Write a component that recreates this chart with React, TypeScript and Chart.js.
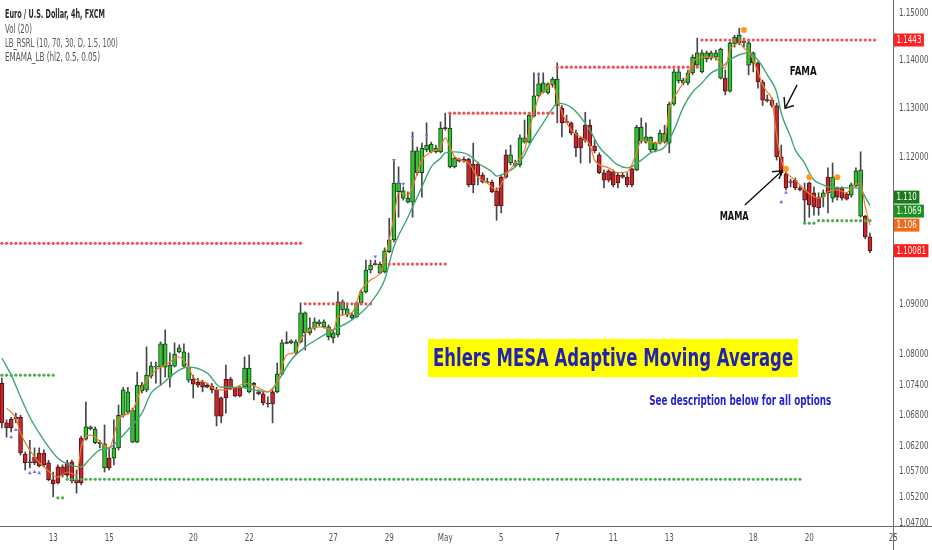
import { useEffect, useRef } from 'react';
import { Chart, registerables } from 'chart.js';

Chart.register(...registerables);

// EUR/USD 4h candles, index 0 = first bar at the left edge
const opens = [
    1.0743, 1.0665, 1.0672, 1.0676, 1.0676, 1.0604, 1.0589, 1.0598, 1.0606, 1.0606,
    1.0587, 1.0554, 1.0579, 1.0579, 1.0587, 1.0589, 1.0554, 1.0635, 1.0633, 1.0653,
    1.0626, 1.0624, 1.0577, 1.0596, 1.0596, 1.0616, 1.0680, 1.0686, 1.0627, 1.0627,
    1.0728, 1.0730, 1.0757, 1.0775, 1.0775, 1.0775, 1.0755, 1.0777, 1.0805, 1.0777,
    1.0749, 1.0751, 1.0745, 1.0745, 1.0739, 1.0737, 1.0730, 1.0714, 1.0751, 1.0751,
    1.0734, 1.0735, 1.0735, 1.0726, 1.0739, 1.0726, 1.0722, 1.0704, 1.0726, 1.0726,
    1.0761, 1.0823, 1.0823, 1.0803, 1.0825, 1.0843, 1.0843, 1.0853, 1.0861, 1.0855,
    1.0835, 1.0833, 1.0839, 1.0889, 1.0879, 1.0873, 1.0875, 1.0903, 1.0925, 1.0969,
    1.0981, 1.0963, 1.0965, 1.1006, 1.1030, 1.1128, 1.1115, 1.1107, 1.1107, 1.1167,
    1.1167, 1.1214, 1.1210, 1.1210, 1.1210, 1.1259, 1.1179, 1.1179, 1.1195, 1.1195,
    1.1195, 1.1185, 1.1185, 1.1162, 1.1148, 1.1148, 1.1130, 1.1158, 1.1204, 1.1187,
    1.1181, 1.1183, 1.1230, 1.1230, 1.1284, 1.1326, 1.1334, 1.1332, 1.1349, 1.1306,
    1.1300, 1.1272, 1.1270, 1.1249, 1.1239, 1.1265, 1.1265, 1.1222, 1.1204, 1.1167,
    1.1171, 1.1169, 1.1162, 1.1162, 1.1158, 1.1175, 1.1173, 1.1232, 1.1230, 1.1214,
    1.1214, 1.1228, 1.1230, 1.1228, 1.1309, 1.1357, 1.1353, 1.1353, 1.1374, 1.1390,
    1.1376, 1.1403, 1.1405, 1.1407, 1.1363, 1.1363, 1.1336, 1.1435, 1.1437, 1.1439,
    1.1390, 1.1395, 1.1395, 1.1355, 1.1317, 1.1317, 1.1306, 1.1200, 1.1165, 1.1148,
    1.1152, 1.1136, 1.1132, 1.1146, 1.1126, 1.1117, 1.1117, 1.1158, 1.1115, 1.1136,
    1.1136, 1.1124, 1.1121, 1.1140, 1.1078, 1.1078, 1.1036
];
const highs = [
    1.0753, 1.0671, 1.0676, 1.0684, 1.0680, 1.0608, 1.0631, 1.0616, 1.0616, 1.0612,
    1.0592, 1.0569, 1.0583, 1.0583, 1.0592, 1.0592, 1.0573, 1.0639, 1.0706, 1.0659,
    1.0657, 1.0631, 1.0661, 1.0616, 1.0671, 1.0700, 1.0735, 1.0735, 1.0694, 1.0765,
    1.0745, 1.0815, 1.0785, 1.0785, 1.0825, 1.0849, 1.0803, 1.0823, 1.0819, 1.0821,
    1.0803, 1.0759, 1.0753, 1.0749, 1.0743, 1.0743, 1.0735, 1.0716, 1.0779, 1.0755,
    1.0735, 1.0737, 1.0795, 1.0799, 1.0745, 1.0730, 1.0726, 1.0716, 1.0730, 1.0783,
    1.0829, 1.0845, 1.0829, 1.0829, 1.0903, 1.0885, 1.0873, 1.0873, 1.0869, 1.0869,
    1.0859, 1.0849, 1.0925, 1.0909, 1.0899, 1.0883, 1.0905, 1.0929, 1.0989, 1.0989,
    1.0989, 1.0985, 1.1014, 1.1074, 1.1193, 1.1179, 1.1138, 1.1128, 1.1251, 1.1220,
    1.1228, 1.1270, 1.1230, 1.1224, 1.1272, 1.1290, 1.1292, 1.1200, 1.1197, 1.1200,
    1.1197, 1.1228, 1.1189, 1.1167, 1.1156, 1.1152, 1.1136, 1.1162, 1.1214, 1.1224,
    1.1193, 1.1245, 1.1276, 1.1290, 1.1374, 1.1374, 1.1374, 1.1353, 1.1365, 1.1395,
    1.1306, 1.1286, 1.1272, 1.1255, 1.1241, 1.1292, 1.1276, 1.1234, 1.1208, 1.1173,
    1.1173, 1.1173, 1.1167, 1.1167, 1.1167, 1.1177, 1.1265, 1.1280, 1.1270, 1.1241,
    1.1230, 1.1255, 1.1265, 1.1313, 1.1382, 1.1384, 1.1363, 1.1380, 1.1412, 1.1447,
    1.1422, 1.1420, 1.1420, 1.1422, 1.1426, 1.1380, 1.1439, 1.1453, 1.1468, 1.1447,
    1.1443, 1.1418, 1.1397, 1.1359, 1.1328, 1.1322, 1.1311, 1.1224, 1.1177, 1.1154,
    1.1156, 1.1140, 1.1146, 1.1148, 1.1138, 1.1126, 1.1132, 1.1177, 1.1187, 1.1138,
    1.1138, 1.1126, 1.1146, 1.1177, 1.1210, 1.1080, 1.1044
];
const lows = [
    1.0655, 1.0637, 1.0647, 1.0665, 1.0602, 1.0573, 1.0577, 1.0583, 1.0579, 1.0579,
    1.0552, 1.0521, 1.0546, 1.0559, 1.0559, 1.0548, 1.0528, 1.0544, 1.0631, 1.0651,
    1.0624, 1.0616, 1.0569, 1.0573, 1.0583, 1.0612, 1.0676, 1.0682, 1.0626, 1.0626,
    1.0724, 1.0726, 1.0753, 1.0743, 1.0739, 1.0755, 1.0735, 1.0775, 1.0803, 1.0775,
    1.0745, 1.0714, 1.0735, 1.0726, 1.0734, 1.0724, 1.0659, 1.0665, 1.0684, 1.0730,
    1.0716, 1.0716, 1.0734, 1.0724, 1.0710, 1.0720, 1.0700, 1.0696, 1.0665, 1.0724,
    1.0759, 1.0821, 1.0821, 1.0799, 1.0823, 1.0809, 1.0839, 1.0849, 1.0857, 1.0853,
    1.0829, 1.0823, 1.0835, 1.0879, 1.0875, 1.0869, 1.0873, 1.0899, 1.0923, 1.0963,
    1.0979, 1.0961, 1.0963, 1.1004, 1.1026, 1.1076, 1.1111, 1.1105, 1.1076, 1.1162,
    1.1117, 1.1210, 1.1208, 1.1208, 1.1208, 1.1255, 1.1177, 1.1177, 1.1189, 1.1189,
    1.1138, 1.1126, 1.1142, 1.1146, 1.1146, 1.1126, 1.1070, 1.1085, 1.1156, 1.1183,
    1.1179, 1.1179, 1.1228, 1.1228, 1.1282, 1.1324, 1.1332, 1.1330, 1.1344, 1.1270,
    1.1241, 1.1270, 1.1245, 1.1200, 1.1187, 1.1230, 1.1187, 1.1208, 1.1165, 1.1136,
    1.1148, 1.1138, 1.1136, 1.1156, 1.1138, 1.1138, 1.1171, 1.1228, 1.1228, 1.1210,
    1.1210, 1.1226, 1.1228, 1.1208, 1.1306, 1.1353, 1.1349, 1.1349, 1.1370, 1.1386,
    1.1374, 1.1397, 1.1401, 1.1401, 1.1361, 1.1328, 1.1334, 1.1428, 1.1433, 1.1428,
    1.1370, 1.1376, 1.1342, 1.1306, 1.1313, 1.1302, 1.1193, 1.1162, 1.1132, 1.1138,
    1.1132, 1.1130, 1.1066, 1.1076, 1.1080, 1.1080, 1.1097, 1.1085, 1.1107, 1.1111,
    1.1111, 1.1111, 1.1117, 1.1138, 1.1076, 1.1032, 1.1004
];
const closes = [
    1.0665, 1.0655, 1.0655, 1.0672, 1.0606, 1.0587, 1.0587, 1.0587, 1.0581, 1.0583,
    1.0554, 1.0546, 1.0548, 1.0563, 1.0563, 1.0552, 1.0548, 1.0548, 1.0657, 1.0657,
    1.0653, 1.0627, 1.0624, 1.0577, 1.0616, 1.0680, 1.0730, 1.0726, 1.0690, 1.0739,
    1.0739, 1.0759, 1.0777, 1.0777, 1.0821, 1.0821, 1.0779, 1.0801, 1.0813, 1.0805,
    1.0775, 1.0741, 1.0739, 1.0735, 1.0735, 1.0730, 1.0678, 1.0678, 1.0714, 1.0732,
    1.0718, 1.0718, 1.0773, 1.0773, 1.0743, 1.0722, 1.0704, 1.0702, 1.0702, 1.0761,
    1.0823, 1.0822, 1.0827, 1.0825, 1.0883, 1.0883, 1.0853, 1.0865, 1.0865, 1.0865,
    1.0855, 1.0843, 1.0905, 1.0905, 1.0891, 1.0879, 1.0903, 1.0925, 1.0969, 1.0979,
    1.0980, 1.0981, 1.1008, 1.1030, 1.1146, 1.1146, 1.1130, 1.1115, 1.1212, 1.1212,
    1.1218, 1.1224, 1.1226, 1.1218, 1.1259, 1.1258, 1.1259, 1.1197, 1.1191, 1.1191,
    1.1142, 1.1142, 1.1160, 1.1148, 1.1147, 1.1128, 1.1099, 1.1099, 1.1158, 1.1204,
    1.1187, 1.1239, 1.1239, 1.1286, 1.1326, 1.1351, 1.1353, 1.1351, 1.1361, 1.1361,
    1.1270, 1.1271, 1.1249, 1.1218, 1.1218, 1.1234, 1.1222, 1.1212, 1.1167, 1.1152,
    1.1152, 1.1142, 1.1146, 1.1158, 1.1142, 1.1142, 1.1261, 1.1261, 1.1241, 1.1240,
    1.1228, 1.1249, 1.1249, 1.1309, 1.1376, 1.1376, 1.1359, 1.1374, 1.1407, 1.1416,
    1.1416, 1.1416, 1.1416, 1.1416, 1.1424, 1.1336, 1.1437, 1.1449, 1.1453, 1.1438,
    1.1437, 1.1416, 1.1355, 1.1317, 1.1316, 1.1306, 1.1200, 1.1167, 1.1136, 1.1147,
    1.1136, 1.1132, 1.1111, 1.1101, 1.1097, 1.1095, 1.1126, 1.1126, 1.1158, 1.1117,
    1.1115, 1.1113, 1.1142, 1.1171, 1.1173, 1.1036, 1.10081
];

// time axis: bar index where each labelled day starts
const dayIdx = [11, 23, 41, 53, 71, 83, 95, 107, 119, 131, 143, 161, 173, 191];
const dayText = ['13', '15', '20', '22', '27', '29', 'May', '5', '7', '11', '13', '18', '20', '25'];

const priceTicks = [1.047, 1.052, 1.057, 1.062, 1.068, 1.074, 1.08, 1.09, 1.12, 1.13, 1.14, 1.15];

// MAMA (orange) and FAMA (green), read at these bars
const mamaIdx = [
    1, 3, 4, 7, 9, 12, 14, 16, 17, 19, 23, 25, 28, 30, 33, 35, 38, 40, 41, 44,
    46, 48, 50, 52, 55, 57, 59, 61, 63, 64, 68, 71, 72, 75, 77, 79, 81, 82, 84, 85,
    87, 88, 90, 92, 94, 95, 96, 97, 100, 102, 104, 106, 108, 110, 112, 113, 115, 116, 118, 119,
    120, 122, 124, 126, 127, 130, 132, 134, 136, 137, 140, 142, 143, 145, 147, 148, 150, 152, 153, 155,
    156, 157, 158, 159, 160, 161, 162, 163, 164, 165, 166, 167, 168, 170, 171, 172, 175, 176, 177, 179,
    181, 182, 184, 185, 186
];
const mamaVal = [
    1.0694, 1.0674, 1.0645, 1.0598, 1.0579, 1.0559, 1.0569, 1.0563, 1.0618, 1.0641,
    1.0616, 1.0671, 1.0690, 1.0735, 1.0769, 1.0779, 1.0795, 1.0775, 1.0755, 1.0743,
    1.0730, 1.0730, 1.0734, 1.0743, 1.0734, 1.0726, 1.0745, 1.0799, 1.0805, 1.0829,
    1.0855, 1.0849, 1.0875, 1.0883, 1.0929, 1.0949, 1.0963, 1.0989, 1.1076, 1.1126,
    1.1121, 1.1138, 1.1193, 1.1210, 1.1220, 1.1239, 1.1220, 1.1200, 1.1187, 1.1158,
    1.1146, 1.1132, 1.1162, 1.1187, 1.1214, 1.1255, 1.1322, 1.1334, 1.1353, 1.1322,
    1.1292, 1.1255, 1.1241, 1.1224, 1.1193, 1.1177, 1.1167, 1.1169, 1.1208, 1.1234,
    1.1228, 1.1234, 1.1297, 1.1338, 1.1370, 1.1395, 1.1407, 1.1407, 1.1405, 1.1384,
    1.1422, 1.1433, 1.1437, 1.1426, 1.1418, 1.1401, 1.1376, 1.1349, 1.1334, 1.1317,
    1.1245, 1.1193, 1.1169, 1.1152, 1.1142, 1.1132, 1.1115, 1.1117, 1.1128, 1.1132,
    1.1126, 1.1136, 1.1146, 1.1097, 1.1060
];
const famaIdx = [
    0, 2, 4, 6, 8, 10, 12, 14, 17, 19, 21, 23, 25, 27, 30, 32, 34, 36, 38, 40,
    44, 47, 51, 54, 57, 59, 62, 65, 68, 71, 74, 77, 79, 82, 84, 87, 90, 92, 94, 95,
    97, 100, 102, 105, 106, 108, 110, 112, 113, 116, 118, 119, 122, 124, 126, 128, 130, 132, 134, 137,
    139, 142, 144, 146, 148, 150, 152, 154, 156, 158, 160, 162, 164, 166, 167, 169, 170, 172, 173, 174,
    176, 177, 180, 183, 184, 186
];
const famaVal = [
    1.0793, 1.0759, 1.0716, 1.0676, 1.0645, 1.0618, 1.0596, 1.0585, 1.0579, 1.0596,
    1.0612, 1.0616, 1.0631, 1.0651, 1.0684, 1.0724, 1.0739, 1.0755, 1.0769, 1.0775,
    1.0763, 1.0735, 1.0735, 1.0730, 1.0726, 1.0745, 1.0789, 1.0815, 1.0833, 1.0849,
    1.0863, 1.0883, 1.0903, 1.0949, 1.1016, 1.1076, 1.1138, 1.1179, 1.1197, 1.1208,
    1.1210, 1.1204, 1.1187, 1.1169, 1.1160, 1.1167, 1.1179, 1.1204, 1.1224, 1.1270,
    1.1300, 1.1311, 1.1302, 1.1282, 1.1255, 1.1220, 1.1200, 1.1183, 1.1177, 1.1193,
    1.1208, 1.1220, 1.1255, 1.1302, 1.1334, 1.1353, 1.1374, 1.1384, 1.1401, 1.1412,
    1.1416, 1.1401, 1.1370, 1.1334, 1.1290, 1.1241, 1.1214, 1.1187, 1.1167, 1.1152,
    1.1142, 1.1138, 1.1136, 1.1136, 1.1132, 1.1100
];

// LB_RSRL dotted levels: first bar, last bar, price
const resFrom = [0, 65, 83, 96, 119, 150];
const resTo = [64, 79, 95, 118, 149, 187];
const resLevel = [1.1023, 1.0901, 1.0981, 1.1290, 1.1386, 1.1443];
const supFrom = [0, 12, 14, 172, 175];
const supTo = [11, 13, 171, 174, 186];
const supLevel = [1.0759, 1.0519, 1.0555, 1.1064, 1.1069];

// orange dots and small triangle markers
const dotIdx = [159, 168, 173, 179];
const dotVal = [1.1464, 1.1175, 1.1158, 1.1158];
const upIdx = [2, 3, 6, 7, 8, 167, 168];
const upVal = [1.0637, 1.0651, 1.0567, 1.0569, 1.0567, 1.1107, 1.1126];
const downIdx = [80, 84, 85, 86, 88, 91, 115];
const downVal = [1.0996, 1.1193, 1.1147, 1.1144, 1.1240, 1.1243, 1.1370];

const legendLines = ['Euro / U.S. Dollar, 4h, FXCM', 'Vol (20)', 'LB_RSRL (10, 70, 30, D, 1.5, 100)', 'EMAMA_LB (hl2, 0.5, 0.05)'];
const titleText = 'Ehlers MESA Adaptive Moving Average';
const subText = 'See description below for all options';

const SMALL = '11px "DejaVu Sans Condensed", sans-serif';
const SQUEEZE = 0.72;

const last = (a: number[]) => a[a.length - 1];

const fitText = (ctx: CanvasRenderingContext2D, text: string, x: number, y: number, width: number, align: CanvasTextAlign) => {
    const w = ctx.measureText(text).width;
    ctx.save();
    ctx.translate(x, y);
    ctx.scale(width / w, 1);
    ctx.textAlign = align;
    ctx.textBaseline = 'middle';
    ctx.fillText(text, 0, 0);
    ctx.restore();
};

const narrowText = (ctx: CanvasRenderingContext2D, text: string, x: number, y: number, align: CanvasTextAlign) =>
    fitText(ctx, text, x, y, ctx.measureText(text).width * SQUEEZE, align);

const levelPoints = (from: number[], to: number[], level: number[]) =>
    from.flatMap((f, k) => Array.from({ length: to[k] - f + 1 }, (_, j) => ({ x: f + j, y: level[k] })));

const overlay = {
    id: 'overlay',
    afterDatasetsDraw(chart: any) {
        const { ctx } = chart;
        const px = (i: number) => chart.scales.x.getPixelForValue(i);
        const py = (v: number) => chart.scales.y.getPixelForValue(v);
        ctx.save();

        // title box
        const l = px(91.3), r = px(170.6), t = py(1.0831), b = py(1.0755);
        ctx.fillStyle = '#ffff00';
        ctx.fillRect(l, t, r - l, b - t);
        ctx.fillStyle = '#2323b0';
        ctx.font = 'bold 25px "DejaVu Sans"';
        fitText(ctx, titleText, (l + r) / 2, (t + b) / 2 + 1, r - l - 10, 'center');
        ctx.fillStyle = '#2424d0';
        ctx.font = 'bold 14px "DejaVu Sans"';
        fitText(ctx, subText, px(158.2), py(1.0708), 182, 'center');

        // FAMA / MAMA call-outs
        ctx.fillStyle = '#111';
        ctx.font = 'bold 12px "DejaVu Sans"';
        fitText(ctx, 'FAMA', px(171.7), py(1.1376), 27, 'center');
        fitText(ctx, 'MAMA', px(156.9), py(1.1076), 29, 'center');
        ctx.strokeStyle = '#111';
        ctx.lineWidth = 1.4;
        ctx.beginPath();
        ctx.moveTo(px(170.4), py(1.1349));
        ctx.lineTo(px(167.8), py(1.1300));
        ctx.moveTo(px(167.6), py(1.1324));
        ctx.lineTo(px(167.8), py(1.1300));
        ctx.lineTo(px(169.7), py(1.1306));
        ctx.moveTo(px(159.2), py(1.1101));
        ctx.lineTo(px(167.2), py(1.1171));
        ctx.moveTo(px(165.0), py(1.1169));
        ctx.lineTo(px(167.2), py(1.1171));
        ctx.lineTo(px(166.5), py(1.1154));
        ctx.stroke();
        ctx.restore();
    },
    afterDraw(chart: any) {
        const { ctx, chartArea } = chart;
        const xScale = chart.scales.x;
        const yScale = chart.scales.y;
        ctx.save();

        // axis tick labels, narrow like the original
        ctx.font = SMALL;
        ctx.fillStyle = '#555';
        xScale.ticks.forEach((t: any, i: number) => {
            narrowText(ctx, dayText[i], xScale.getPixelForValue(t.value), chartArea.bottom + 12, 'center');
        });
        ctx.save();
        ctx.beginPath();
        ctx.rect(chartArea.right, 0, 60, chartArea.bottom);
        ctx.clip();
        yScale.ticks.forEach((t: any) => {
            narrowText(ctx, Number(t.value).toFixed(5), chartArea.right + 6, yScale.getPixelForValue(t.value), 'left');
        });
        ctx.restore();

        // frame lines
        ctx.strokeStyle = '#6b6b6b';
        ctx.lineWidth = 1;
        ctx.beginPath();
        ctx.moveTo(0, chartArea.bottom + 0.5);
        ctx.lineTo(chart.width, chartArea.bottom + 0.5);
        ctx.moveTo(chartArea.right + 0.5, 0);
        ctx.lineTo(chartArea.right + 0.5, chart.height);
        ctx.stroke();

        // price tags on the scale; colliding tags are stacked upward from the lowest
        const tags = [
            { v: last(resLevel), text: last(resLevel).toFixed(4), bg: '#ff2020' },
            { v: last(famaVal), text: last(famaVal).toFixed(3), bg: '#1b7a1b' },
            { v: last(supLevel), text: last(supLevel).toFixed(4), bg: '#1f8f1f' },
            { v: last(mamaVal), text: last(mamaVal).toFixed(3), bg: '#f26a1c' },
            { v: last(closes), text: last(closes).toFixed(5), bg: '#ff1c1c' }
        ].map(t => ({ ...t, y: yScale.getPixelForValue(t.v), py: 0 })).sort((a, b) => b.y - a.y);
        const H = 14;
        tags.forEach((t, k) => {
            t.py = k === 0 ? t.y : Math.min(t.y, tags[k - 1].py - H);
        });
        ctx.font = SMALL;
        tags.forEach(t => {
            const w = ctx.measureText(t.text).width * SQUEEZE;
            const x0 = chartArea.right + 1;
            ctx.fillStyle = t.bg;
            ctx.fillRect(x0, t.py - 6.5, w + 5, 13);
            ctx.fillStyle = '#fff';
            fitText(ctx, t.text, x0 + 2.5, t.py + 0.5, w, 'left');
        });

        // legend
        ctx.fillStyle = '#2a2a2a';
        ctx.font = 'bold 12px "DejaVu Sans Condensed"';
        fitText(ctx, legendLines[0], 5, 15, 100, 'left');
        ctx.fillStyle = '#555';
        ctx.font = '12px "DejaVu Sans Condensed"';
        fitText(ctx, legendLines[1], 5, 29.5, 27, 'left');
        fitText(ctx, legendLines[2], 5, 43.5, 113, 'left');
        fitText(ctx, legendLines[3], 5, 57.5, 95, 'left');
        ctx.restore();
    }
};

export default function App() {
    const canvas = useRef<HTMLCanvasElement>(null);

    useEffect(() => {
        const idx = opens.map((_, i) => i);
        const rising = (i: number) => closes[i] >= opens[i];

        const chart = new Chart(
            // @ts-expect-error next
            canvas.current,
            {
                type: 'bar',
                data: {
                    datasets: [
                        {
                            type: 'bar',
                            data: idx.map(i => ({ x: i, y: [lows[i], highs[i]] })),
                            backgroundColor: '#474747',
                            barThickness: 1,
                            grouped: false,
                            order: 6
                        },
                        {
                            type: 'bar',
                            data: idx.map(i => ({ x: i, y: [opens[i], closes[i]] })),
                            backgroundColor: idx.map(i => rising(i) ? '#2fc62f' : '#c3272c'),
                            borderColor: idx.map(i => rising(i) ? '#173d17' : '#5a1010'),
                            borderWidth: 1,
                            borderSkipped: false,
                            barThickness: 4,
                            minBarLength: 1,
                            grouped: false,
                            order: 5
                        },
                        {
                            type: 'line',
                            data: famaIdx.map((x, k) => ({ x, y: famaVal[k] })),
                            borderColor: '#3fa876',
                            borderWidth: 1.4,
                            pointRadius: 0,
                            cubicInterpolationMode: 'monotone',
                            order: 4
                        },
                        {
                            type: 'line',
                            data: mamaIdx.map((x, k) => ({ x, y: mamaVal[k] })),
                            borderColor: '#f47a2c',
                            borderWidth: 1.2,
                            pointRadius: 0,
                            cubicInterpolationMode: 'monotone',
                            order: 3
                        },
                        {
                            type: 'line',
                            data: levelPoints(resFrom, resTo, resLevel),
                            showLine: false,
                            pointRadius: 1.6,
                            pointBorderWidth: 0,
                            pointBackgroundColor: '#ef5353',
                            order: 2
                        },
                        {
                            type: 'line',
                            data: levelPoints(supFrom, supTo, supLevel),
                            showLine: false,
                            pointRadius: 1.6,
                            pointBorderWidth: 0,
                            pointBackgroundColor: '#4caf50',
                            order: 2
                        },
                        {
                            type: 'line',
                            data: dotIdx.map((x, k) => ({ x, y: dotVal[k] })),
                            showLine: false,
                            pointRadius: 3,
                            pointBorderWidth: 0,
                            pointBackgroundColor: '#ff9a1f',
                            order: 1
                        },
                        {
                            type: 'line',
                            data: upIdx.map((x, k) => ({ x, y: upVal[k] })),
                            showLine: false,
                            pointStyle: 'triangle',
                            pointRadius: 2.2,
                            pointBorderWidth: 0,
                            pointBackgroundColor: '#7b6cf2',
                            order: 1
                        },
                        {
                            type: 'line',
                            data: downIdx.map((x, k) => ({ x, y: downVal[k] })),
                            showLine: false,
                            pointStyle: 'triangle',
                            pointRotation: 180,
                            pointRadius: 2.2,
                            pointBorderWidth: 0,
                            pointBackgroundColor: '#7b6cf2',
                            order: 1
                        }
                    ]
                },
                options: {
                    responsive: false,
                    animation: false,
                    events: [],
                    layout: { padding: 0, autoPadding: false },
                    plugins: {
                        legend: { display: false },
                        tooltip: { enabled: false }
                    },
                    scales: {
                        x: {
                            type: 'linear',
                            min: -0.4,
                            max: 190.94,
                            offset: false,
                            bounds: 'data',
                            grid: { display: false, drawTicks: false },
                            border: { display: false },
                            afterBuildTicks: (scale: any) => {
                                scale.ticks = dayIdx.map(v => ({ value: v }));
                            },
                            afterFit: (scale: any) => {
                                scale.height = 24;
                                scale.paddingLeft = 0;
                                scale.paddingRight = 0;
                            },
                            ticks: { display: false }
                        },
                        y: {
                            type: 'logarithmic',
                            position: 'right',
                            min: 1.04646,
                            max: 1.15275,
                            bounds: 'data',
                            grid: { display: false, drawTicks: false },
                            border: { display: false },
                            afterBuildTicks: (scale: any) => {
                                scale.ticks = priceTicks.map(v => ({ value: v }));
                            },
                            afterFit: (scale: any) => {
                                scale.width = 39;
                                scale.paddingTop = 0;
                                scale.paddingBottom = 0;
                            },
                            ticks: { display: false }
                        }
                    }
                },
                plugins: [overlay]
            } as any
        );

        return () => {
            chart.destroy();
        };
    }, []);

    return (
        <div style={{ position: 'absolute', left: 0, top: 0, width: 932, height: 550, background: '#fff' }}>
            <canvas ref={canvas} width={932} height={550} style={{ display: 'block' }} />
        </div>
    );
}
